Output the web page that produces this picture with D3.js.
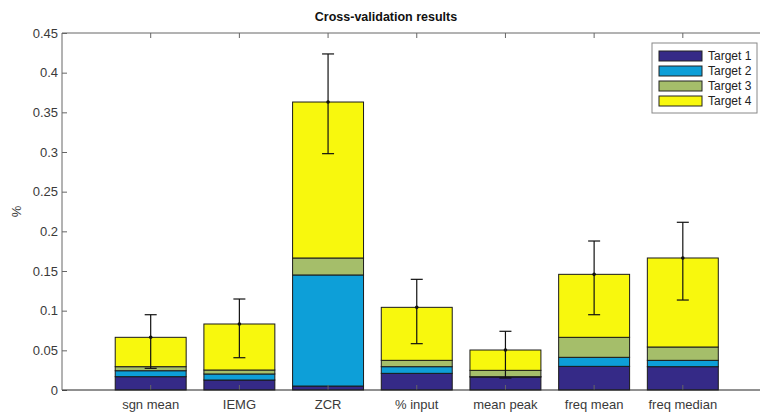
<!DOCTYPE html>
<html>
<head>
<meta charset="utf-8">
<script src="https://cdn.jsdelivr.net/npm/d3@7"></script>
<style>
  body { margin: 0; background: #fff; }
  text { font-family: "Liberation Sans", Arial, sans-serif; }
</style>
</head>
<body>
<div id="chart"></div>
<script>
// categories on the x axis
var features = ["sgn mean", "IEMG", "ZCR", "% input", "mean peak", "freq mean", "freq median"];
var targets = ["Target 1", "Target 2", "Target 3", "Target 4"];

// stacked segment heights per target
var target1 = [0.0168, 0.0126, 0.0050, 0.0210, 0.0164, 0.0298, 0.0294];
var target2 = [0.0075, 0.0076, 0.1400, 0.0084, 0.0004, 0.0114, 0.0080];
var target3 = [0.0051, 0.0050, 0.0214, 0.0080, 0.0080, 0.0252, 0.0168];
var target4 = [0.0370, 0.0580, 0.1966, 0.0668, 0.0256, 0.0794, 0.1122];

// error bar ends
var errTop    = [0.0949, 0.1147, 0.4236, 0.1395, 0.0740, 0.1878, 0.2114];
var errBottom = [0.0273, 0.0407, 0.2979, 0.0584, 0.0151, 0.0949, 0.1134];

var yTicks = [0, 0.05, 0.1, 0.15, 0.2, 0.25, 0.3, 0.35, 0.4, 0.45];
var colors = ["#352a87", "#0d9fd8", "#a5be6a", "#f8f80d"];

const W = 760, H = 412;
const mLeft = 62, mRight = 771.5, mTop = 33, mBottom = 390;

const svg = d3.select("#chart").append("svg")
  .attr("width", W)
  .attr("height", H);

const x = d3.scaleBand()
  .domain(features)
  .range([mLeft, mRight])
  .paddingInner(0.2)
  .paddingOuter(0.6);

const y = d3.scaleLinear()
  .domain([0, 0.45])
  .range([mBottom, mTop]);

// stack the series
var rows = features.map((f, i) => ({
  feature: f, t0: target1[i], t1: target2[i], t2: target3[i], t3: target4[i]
}));
const stack = d3.stack().keys(["t0", "t1", "t2", "t3"]);
const series = stack(rows);

svg.append("g").selectAll("g")
  .data(series)
  .join("g")
    .attr("fill", (d, i) => colors[i])
  .selectAll("rect")
  .data(d => d)
  .join("rect")
    .attr("x", d => x(d.data.feature))
    .attr("y", d => y(d[1]))
    .attr("width", x.bandwidth())
    .attr("height", d => y(d[0]) - y(d[1]))
    .attr("stroke", "#1a1a1a")
    .attr("stroke-width", 1);

// error bars
var totals = rows.map(r => r.t0 + r.t1 + r.t2 + r.t3);
const eb = svg.append("g").attr("stroke", "#111").attr("stroke-width", 1.2);
features.forEach((f, i) => {
  var cx = x(f) + x.bandwidth() / 2;
  eb.append("line")
    .attr("x1", cx).attr("x2", cx)
    .attr("y1", y(errTop[i])).attr("y2", y(errBottom[i]));
  eb.append("line")
    .attr("x1", cx - 6).attr("x2", cx + 6)
    .attr("y1", y(errTop[i])).attr("y2", y(errTop[i]));
  eb.append("line")
    .attr("x1", cx - 6).attr("x2", cx + 6)
    .attr("y1", y(errBottom[i])).attr("y2", y(errBottom[i]));
  svg.append("circle")
    .attr("cx", cx).attr("cy", y(totals[i]))
    .attr("r", 1.8)
    .attr("fill", "#111");
});

// axes (MATLAB style: ticks inward, box)
const axisColor = "#666";
const yAxis = svg.append("g")
  .attr("transform", `translate(${mLeft},0)`)
  .call(d3.axisLeft(y).tickValues(yTicks).tickSize(-5).tickPadding(4).tickFormat(d => d3.format("")(d)));
yAxis.select(".domain").remove();
yAxis.selectAll("line").attr("stroke", axisColor);
yAxis.selectAll("text").attr("font-size", 13).attr("fill", "#3a3a3a");

const xAxis = svg.append("g")
  .attr("transform", `translate(0,${mBottom})`)
  .call(d3.axisBottom(x).tickSize(-5).tickPadding(10));
xAxis.select(".domain").remove();
xAxis.selectAll("line").attr("stroke", axisColor);
xAxis.selectAll("text").attr("font-size", 13).attr("fill", "#3a3a3a");

const xTop = svg.append("g")
  .attr("transform", `translate(0,${mTop})`)
  .call(d3.axisTop(x).tickSize(-5).tickFormat(""));
xTop.select(".domain").remove();
xTop.selectAll("line").attr("stroke", axisColor);

// box lines
svg.append("line").attr("x1", mLeft).attr("x2", mRight).attr("y1", mTop).attr("y2", mTop)
  .attr("stroke", axisColor);
svg.append("line").attr("x1", mLeft).attr("x2", mRight).attr("y1", mBottom).attr("y2", mBottom)
  .attr("stroke", "#222");
svg.append("line").attr("x1", mLeft).attr("x2", mLeft).attr("y1", mTop).attr("y2", mBottom)
  .attr("stroke", axisColor);

// title and y label
svg.append("text")
  .attr("x", 386).attr("y", 21)
  .attr("text-anchor", "middle")
  .attr("font-size", 12.5)
  .attr("font-weight", "bold")
  .attr("fill", "#111")
  .text("Cross-validation results");

svg.append("text")
  .attr("transform", `translate(21,${(mTop + mBottom) / 2}) rotate(-90)`)
  .attr("text-anchor", "middle")
  .attr("font-size", 13)
  .attr("fill", "#3a3a3a")
  .text("%");

// legend
const lg = svg.append("g").attr("transform", "translate(652,43)");
lg.append("rect")
  .attr("width", 105).attr("height", 70)
  .attr("fill", "#fff")
  .attr("stroke", "#888");
targets.forEach((t, i) => {
  lg.append("rect")
    .attr("x", 7).attr("y", 8 + i * 15)
    .attr("width", 43).attr("height", 10)
    .attr("fill", colors[i])
    .attr("stroke", "#222");
  lg.append("text")
    .attr("x", 56).attr("y", 17 + i * 15)
    .attr("font-size", 12)
    .attr("fill", "#222")
    .text(t);
});
</script>
</body>
</html>
